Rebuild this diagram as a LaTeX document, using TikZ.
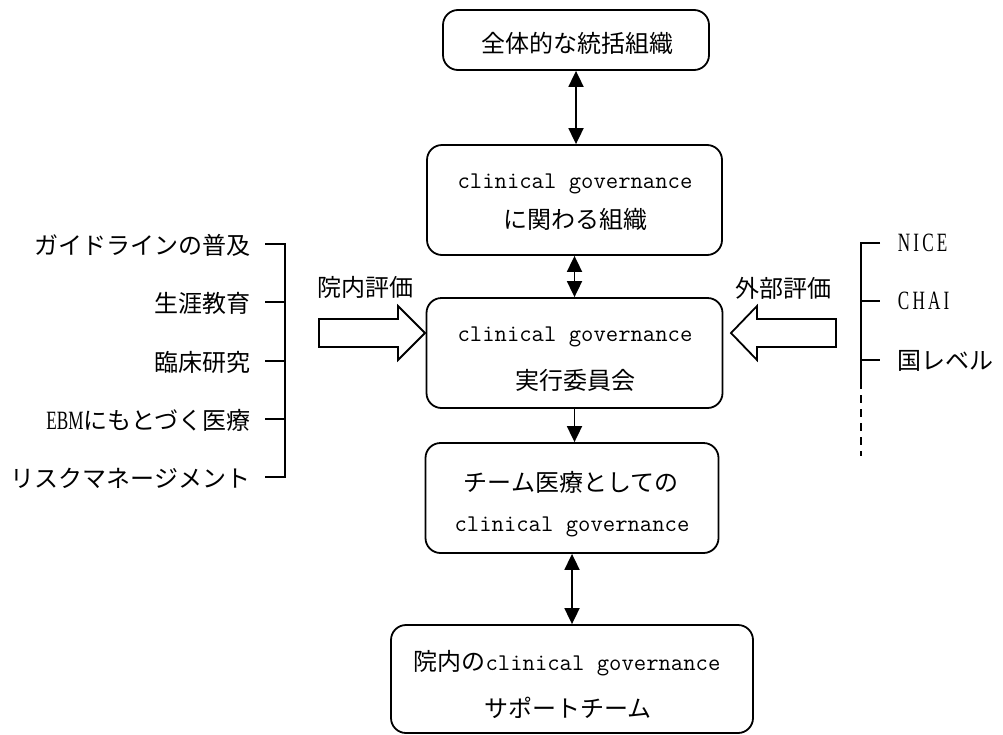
\documentclass[tikz,border=0pt]{standalone}
\usepackage{fontspec}
\setmainfont{Noto Sans CJK JP}
\setmonofont{Latin Modern Mono}
\newfontfamily\capfont[FakeStretch=0.65,Scale=1.1]{Liberation Serif}
\newfontfamily\widecapfont[FakeStretch=0.65,Scale=1.1,LetterSpace=12]{Liberation Serif}
\usetikzlibrary{arrows.meta}
\begin{document}
\begin{tikzpicture}[x=1pt,y=-1pt,
  line width=1.8pt,
  box/.style={draw,rounded corners=15pt,inner sep=0pt},
  txt/.style={inner sep=0pt,font=\fontsize{24}{28}\selectfont},
  both/.style={{Triangle[length=16pt,width=15pt]}-{Triangle[length=16pt,width=15pt]}},
  fwd/.style={-{Triangle[length=16pt,width=15pt]}},
  hollow/.style={draw,fill=white,line width=1.8pt,line join=miter}]
\useasboundingbox (0,0) rectangle (1003,734);

% main chain of organisations
\node[box,minimum width=266pt,minimum height=60pt]  (b1) at (576,40) {};
\node[box,minimum width=295pt,minimum height=110pt] (b2) at (574.5,200) {};
\node[box,minimum width=296pt,minimum height=110pt] (b3) at (574.5,353) {};
\node[box,minimum width=293pt,minimum height=110pt] (b4) at (572,498) {};
\node[box,minimum width=362pt,minimum height=108pt] (b5) at (572,679) {};

\node[txt] (t1)  at (577,43)  {全体的な統括組織};
\node[txt] (t2a) at (575,184) {\texttt{clinical governance}};
\node[txt] (t2b) at (575,219) {に関わる組織};
\node[txt] (t3a) at (575,337) {\texttt{clinical governance}};
\node[txt] (t3b) at (575,380) {実行委員会};
\node[txt] (t4a) at (571,482) {チーム医療としての};
\node[txt] (t4b) at (572,527) {\texttt{clinical governance}};
\node[txt] (t5a) at (567,663) {院内の\texttt{clinical governance}};
\node[txt] (t5b) at (568,708) {サポートチーム};

\draw[both] (b1.south) -- (b1.south |- b2.north);
\draw[both] (b2.south) -- (b2.south |- b3.north);
\draw[fwd]  (b3.south) -- (b3.south |- b4.north);
\draw[both] (b4.south) -- (b4.south |- b5.north);

% internal evaluation (left)
\node[txt] (ev1) at (365,287) {院内評価};
\draw[hollow] (319,319) -- (398,319) -- (398,306) -- (425,333)
  -- (398,360) -- (398,347) -- (319,347) -- cycle;

\node[txt,anchor=east] (l1) at (251,245) {ガイドラインの普及};
\node[txt,anchor=east] (l2) at (251,303) {生涯教育};
\node[txt,anchor=east] (l3) at (251,362) {臨床研究};
\node[txt,anchor=east] (l4) at (251,420) {{\capfont EBM}にもとづく医療};
\node[txt,anchor=east] (l5) at (251,478) {リスクマネージメント};
\draw (265,244) -- (285,244) -- (285,477) -- (265,477);
\draw (265,302) -- (285,302);
\draw (265,361) -- (285,361);
\draw (265,419) -- (285,419);

% external evaluation (right)
\node[txt] (ev2) at (783,288) {外部評価};
\draw[hollow] (836,319) -- (757,319) -- (757,306) -- (731,333)
  -- (757,360) -- (757,347) -- (836,347) -- cycle;

\node[txt,anchor=west] (r1) at (897,243) {\widecapfont NICE};
\node[txt,anchor=west] (r2) at (897,301) {\widecapfont CHAI};
\node[txt,anchor=west] (r3) at (897,361) {国レベル};
\draw (880,243) -- (861,243) -- (861,381);
\draw (861,301) -- (880,301);
\draw (861,360) -- (880,360);
\draw[line width=1.4pt,dash pattern=on 8pt off 6pt] (861,381) -- (861,456);
\end{tikzpicture}
\end{document}
